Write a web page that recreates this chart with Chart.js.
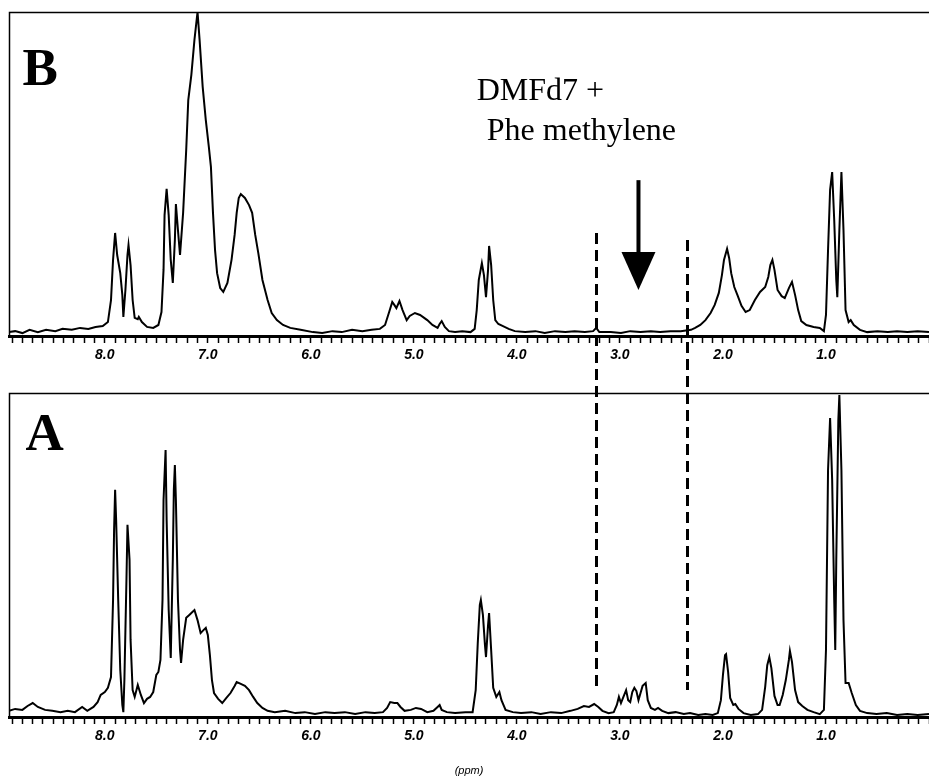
<!DOCTYPE html>
<html><head><meta charset="utf-8">
<script src="https://cdn.jsdelivr.net/npm/chart.js@4.4.1/dist/chart.umd.min.js"></script>
<style>
html,body{margin:0;padding:0;background:#fff;}
#wrap{position:relative;width:929px;height:782px;overflow:hidden;background:#fff;}
#cB{position:absolute;left:0;top:0;}
#cA{position:absolute;left:0;top:380px;}
</style></head><body>
<div id="wrap"><canvas id="cB" width="929" height="380"></canvas><canvas id="cA" width="929" height="402"></canvas></div>
<script>
// ---- Spectrum B (top) : chemical shift (ppm) and relative intensity ----
const ppmB = [8.93,8.87,8.80,8.73,8.65,8.57,8.48,8.41,8.32,8.24,8.16,8.09,8.02,7.97,7.94,7.92,7.90,7.88,7.85,7.83,7.82,7.80,7.78,7.77,7.75,7.73,7.71,7.68,7.67,7.64,7.59,7.53,7.48,7.45,7.43,7.42,7.40,7.38,7.36,7.34,7.32,7.31,7.29,7.27,7.24,7.21,7.19,7.16,7.13,7.10,7.08,7.05,7.02,6.99,6.97,6.95,6.93,6.91,6.88,6.85,6.81,6.77,6.74,6.72,6.70,6.68,6.64,6.60,6.57,6.54,6.51,6.47,6.42,6.38,6.33,6.27,6.20,6.10,5.98,5.89,5.79,5.70,5.60,5.50,5.41,5.33,5.28,5.24,5.21,5.19,5.17,5.14,5.11,5.07,5.04,4.99,4.94,4.87,4.82,4.77,4.75,4.73,4.70,4.66,4.60,4.53,4.45,4.41,4.39,4.37,4.34,4.32,4.30,4.28,4.27,4.25,4.23,4.21,4.18,4.14,4.08,4.02,3.92,3.82,3.73,3.63,3.53,3.44,3.34,3.26,3.23,3.20,3.09,2.99,2.90,2.80,2.70,2.61,2.51,2.41,2.31,2.27,2.22,2.17,2.12,2.08,2.04,2.01,1.99,1.96,1.94,1.92,1.89,1.86,1.82,1.78,1.74,1.69,1.64,1.59,1.56,1.54,1.52,1.50,1.47,1.43,1.40,1.36,1.33,1.30,1.27,1.24,1.19,1.12,1.06,1.02,1.00,0.98,0.96,0.94,0.92,0.90,0.89,0.87,0.85,0.83,0.81,0.78,0.76,0.73,0.67,0.60,0.50,0.40,0.31,0.21,0.11,0.00];
const intB = [1.2,1.5,0.9,1.9,1.2,1.9,1.5,2.2,1.9,2.5,2.2,2.8,3.1,4.3,11.1,23.5,31.8,25.0,19.4,12.7,5.9,14.2,25.0,28.1,21.9,11.1,5.6,5.2,5.9,4.3,2.8,2.5,3.4,7.4,20.4,37.3,45.4,37.3,23.5,16.4,29.6,40.7,32.7,25.0,38.0,57.4,72.8,80.6,91.4,100,91.4,76.9,66.7,58.3,52.2,38.0,26.5,19.4,14.8,13.6,16.4,23.5,31.2,38.0,42.6,43.8,42.6,40.4,38.0,31.2,25.6,17.3,11.1,7.1,4.9,3.4,2.5,1.9,1.2,0.9,1.5,1.2,1.9,1.5,1.9,2.2,3.4,7.4,10.5,9.6,8.6,10.8,8.0,4.9,6.2,7.1,6.5,4.9,3.4,2.5,3.7,4.6,2.8,1.5,1.2,1.5,1.2,2.2,8.0,17.3,22.5,18.8,12.0,20.4,27.8,21.9,11.1,4.9,3.7,3.1,2.2,1.5,1.2,1.5,0.9,1.5,1.2,1.5,1.2,1.5,2.5,1.2,1.2,0.9,1.5,1.2,1.5,1.2,1.5,1.5,1.9,2.5,3.4,4.9,7.1,9.6,13.3,18.8,23.5,26.9,24.1,19.4,15.1,12.7,9.3,7.4,8.0,11.1,13.6,15.1,18.2,21.9,23.5,20.4,14.2,12.3,11.7,14.8,16.7,12.7,8.0,4.6,3.4,2.8,2.5,1.5,6.5,26.5,45.1,50.6,35.8,17.3,12.0,32.7,50.6,32.7,8.0,4.3,4.9,3.4,1.9,1.2,1.5,1.2,1.5,1.2,1.5,1.2];

// ---- Spectrum A (bottom) ----
const ppmA = [8.93,8.87,8.80,8.75,8.70,8.65,8.58,8.51,8.43,8.36,8.29,8.22,8.17,8.11,8.07,8.04,8.00,7.97,7.94,7.92,7.91,7.90,7.89,7.87,7.85,7.83,7.82,7.81,7.79,7.78,7.76,7.75,7.73,7.71,7.68,7.65,7.62,7.59,7.56,7.53,7.50,7.48,7.46,7.44,7.43,7.41,7.40,7.38,7.36,7.34,7.33,7.32,7.31,7.29,7.27,7.26,7.24,7.21,7.18,7.15,7.13,7.10,7.07,7.04,7.02,7.00,6.98,6.96,6.94,6.90,6.86,6.82,6.78,6.74,6.72,6.68,6.64,6.60,6.56,6.52,6.47,6.42,6.35,6.25,6.15,6.06,5.96,5.86,5.77,5.67,5.57,5.47,5.38,5.30,5.26,5.23,5.19,5.16,5.13,5.09,5.03,4.98,4.93,4.87,4.81,4.77,4.75,4.73,4.68,4.60,4.50,4.43,4.40,4.38,4.36,4.35,4.33,4.31,4.30,4.28,4.27,4.25,4.23,4.20,4.17,4.15,4.11,4.04,3.96,3.86,3.77,3.67,3.57,3.48,3.41,3.35,3.30,3.25,3.21,3.17,3.11,3.06,3.03,3.01,2.99,2.97,2.94,2.92,2.90,2.88,2.86,2.84,2.82,2.80,2.78,2.76,2.75,2.73,2.70,2.66,2.63,2.59,2.53,2.46,2.38,2.32,2.24,2.17,2.10,2.05,2.02,2.00,1.98,1.97,1.95,1.93,1.90,1.88,1.85,1.80,1.73,1.66,1.62,1.59,1.57,1.55,1.53,1.50,1.47,1.45,1.42,1.39,1.36,1.35,1.33,1.30,1.27,1.23,1.18,1.12,1.06,1.02,1.00,0.98,0.96,0.94,0.92,0.91,0.90,0.88,0.87,0.85,0.83,0.81,0.78,0.75,0.71,0.67,0.60,0.51,0.41,0.31,0.21,0.11,0.00];
const intA = [1.9,2.5,2.2,3.4,4.3,3.1,2.2,1.9,1.5,1.9,1.5,3.1,1.9,3.1,4.6,6.8,7.7,9.0,12.3,36.1,57.7,70.1,60.8,36.1,14.5,3.7,1.5,11.4,42.3,59.3,48.5,23.8,8.3,6.2,9.9,6.8,4.3,5.6,6.2,7.7,13.0,13.9,17.6,36.1,67.0,82.4,60.8,33.0,18.2,48.5,70.1,77.8,67.0,36.1,20.7,16.7,23.8,30.6,31.5,32.4,33.0,29.9,25.9,26.9,27.5,25.3,19.1,11.4,7.4,5.6,4.3,5.9,7.4,9.6,10.8,10.2,9.6,8.3,6.2,4.3,2.8,1.9,1.5,1.9,1.2,1.5,0.9,1.5,1.2,1.5,0.9,1.5,1.2,1.5,2.8,4.6,4.3,4.3,3.1,1.9,2.2,2.8,2.5,1.5,1.9,3.1,3.7,2.2,1.5,1.2,1.5,1.5,8.3,22.8,34.6,36.1,31.5,22.2,18.5,28.4,32.1,20.7,9.0,6.2,7.7,5.2,2.2,1.5,1.2,1.5,0.9,1.5,1.2,1.9,2.5,3.4,3.1,4.0,3.1,1.9,1.2,1.5,3.7,6.2,4.3,5.9,8.3,5.2,4.6,7.7,9.0,8.0,5.2,7.4,9.6,10.2,10.5,5.2,2.8,2.2,2.8,1.9,1.2,1.5,0.9,1.2,0.6,0.9,0.6,1.2,5.2,13.0,19.1,19.4,13.9,5.9,3.7,4.0,2.5,1.2,0.6,0.9,2.2,9.3,16.0,18.5,15.1,6.5,3.7,3.7,6.8,11.4,17.6,20.4,17.0,8.3,4.6,3.4,2.2,1.5,0.9,2.2,20.7,76.2,92.3,73.1,36.1,20.7,48.5,91.7,99.4,76.2,29.9,10.5,10.5,7.4,3.7,1.9,1.2,0.9,1.2,0.6,0.9,0.6,0.9];

// ---- Axis / annotation content ----
const ppmLimits = [0, 8.93];
const labeledTicks = [8, 7, 6, 5, 4, 3, 2, 1];
const panelLetters = ['B', 'A'];
const regionEdges = [3.23, 2.35];
const arrowShift = 2.82;
const noteLines = ['DMFd7 +', ' Phe methylene'];
const axisTitle = '(ppm)';

const decor = {
  id: 'decor',
  afterDraw(chart, args, o) {
    const {ctx, chartArea: a, scales: {x, y}} = chart;
    ctx.save();
    ctx.strokeStyle = '#000'; ctx.fillStyle = '#000';
    // frame (top + left)
    ctx.lineWidth = 1.5;
    ctx.beginPath(); ctx.moveTo(a.left + 0.5, a.bottom); ctx.lineTo(a.left + 0.5, a.top + 0.5); ctx.lineTo(chart.width, a.top + 0.5); ctx.stroke();
    // panel letter
    ctx.font = 'bold 53px "Liberation Serif", "DejaVu Serif", serif';
    ctx.textAlign = 'left'; ctx.textBaseline = 'alphabetic';
    ctx.fillText(o.letter, x.getPixelForValue(o.letterAt[0]), y.getPixelForValue(o.letterAt[1]));
    // dashed region lines
    ctx.lineWidth = 3; ctx.setLineDash([11, 6]);
    o.dashes.forEach(d => {
      const px = Math.round(x.getPixelForValue(d.ppm)) + 0.5;
      const y0 = d.from === 'edge' ? 0 : y.getPixelForValue(d.from);
      const y1 = d.to === 'edge' ? chart.height : y.getPixelForValue(d.to);
      ctx.lineDashOffset = d.phase || 0;
      ctx.beginPath(); ctx.moveTo(px, y0); ctx.lineTo(px, y1); ctx.stroke();
    });
    ctx.setLineDash([]);
    // arrow
    if (o.arrow) {
      const ax = x.getPixelForValue(o.arrow.ppm);
      const hw = 17;
      ctx.lineWidth = 4;
      ctx.beginPath(); ctx.moveTo(ax, y.getPixelForValue(o.arrow.tail)); ctx.lineTo(ax, y.getPixelForValue(o.arrow.headBase) + 2); ctx.stroke();
      ctx.beginPath();
      ctx.moveTo(ax - hw, y.getPixelForValue(o.arrow.headBase));
      ctx.lineTo(ax + hw, y.getPixelForValue(o.arrow.headBase));
      ctx.lineTo(ax, y.getPixelForValue(o.arrow.tip));
      ctx.closePath(); ctx.fill();
    }
    // annotation text
    if (o.notes) {
      ctx.font = '32px "Liberation Serif", "DejaVu Serif", serif';
      o.notes.forEach(n => ctx.fillText(n.text, x.getPixelForValue(n.ppm), y.getPixelForValue(n.v)));
    }
    ctx.restore();
  }
};

function makeChart(id, ppm, inten, axisH, padTop, decorOpts, withTitle) {
  return new Chart(document.getElementById(id), {
    type: 'scatter',
    data: { datasets: [{
      data: ppm.map((p, i) => ({x: p, y: inten[i]})),
      showLine: true, borderColor: '#000', borderWidth: 2, pointRadius: 0, tension: 0, fill: false
    }]},
    options: {
      responsive: false, animation: false, devicePixelRatio: 1,
      layout: {padding: {top: padTop, left: 9, right: 0, bottom: 0}},
      plugins: {legend: {display: false}, tooltip: {enabled: false}, decor: decorOpts},
      scales: {
        x: {
          type: 'linear', reverse: true, min: ppmLimits[0], max: ppmLimits[1],
          afterFit(s) { s.height = axisH; s.paddingLeft = 0; s.paddingRight = 0; },
          border: {display: true, color: '#000', width: 3},
          grid: {display: true, drawOnChartArea: false, drawTicks: true, tickLength: 7, tickColor: '#000', tickWidth: 1.5},
          ticks: {
            stepSize: 0.1, autoSkip: false, includeBounds: false, maxRotation: 0, minRotation: 0, padding: 4,
            color: '#000',
            font: {family: '"Liberation Sans Narrow", "Liberation Sans", Arial, sans-serif', size: 14, style: 'italic', weight: 'bold'},
            callback(v) {
              const r = Math.round(v);
              return (Math.abs(v - r) < 1e-6 && labeledTicks.includes(r)) ? r.toFixed(1) : '';
            }
          },
          title: withTitle ? {display: true, text: axisTitle, color: '#000',
            font: {family: '"Liberation Sans", Arial, sans-serif', size: 11, style: 'italic'}, padding: {top: 0, bottom: 4}} : {display: false}
        },
        y: {display: false, min: 0, max: 100}
      }
    },
    plugins: [decor]
  });
}

makeChart('cB', ppmB, intB, 44, 12, {
  letter: panelLetters[0], letterAt: [8.80, 77.5],
  dashes: [{ppm: regionEdges[0], from: 31.8, to: 'edge'}, {ppm: regionEdges[1], from: 29.6, to: 'edge'}],
  arrow: {ppm: arrowShift, tail: 48.1, headBase: 25.9, tip: 14.2},
  notes: [{text: noteLines[0], ppm: 4.39, v: 72.8}, {text: noteLines[1], ppm: 4.37, v: 60.5}]
}, false);

makeChart('cA', ppmA, intA, 65, 13, {
  letter: panelLetters[1], letterAt: [8.77, 82.4],
  dashes: [{ppm: regionEdges[0], from: 'edge', to: 9.3, phase: 11}, {ppm: regionEdges[1], from: 'edge', to: 8.3, phase: 4}]
}, true);
</script>
</body></html>
